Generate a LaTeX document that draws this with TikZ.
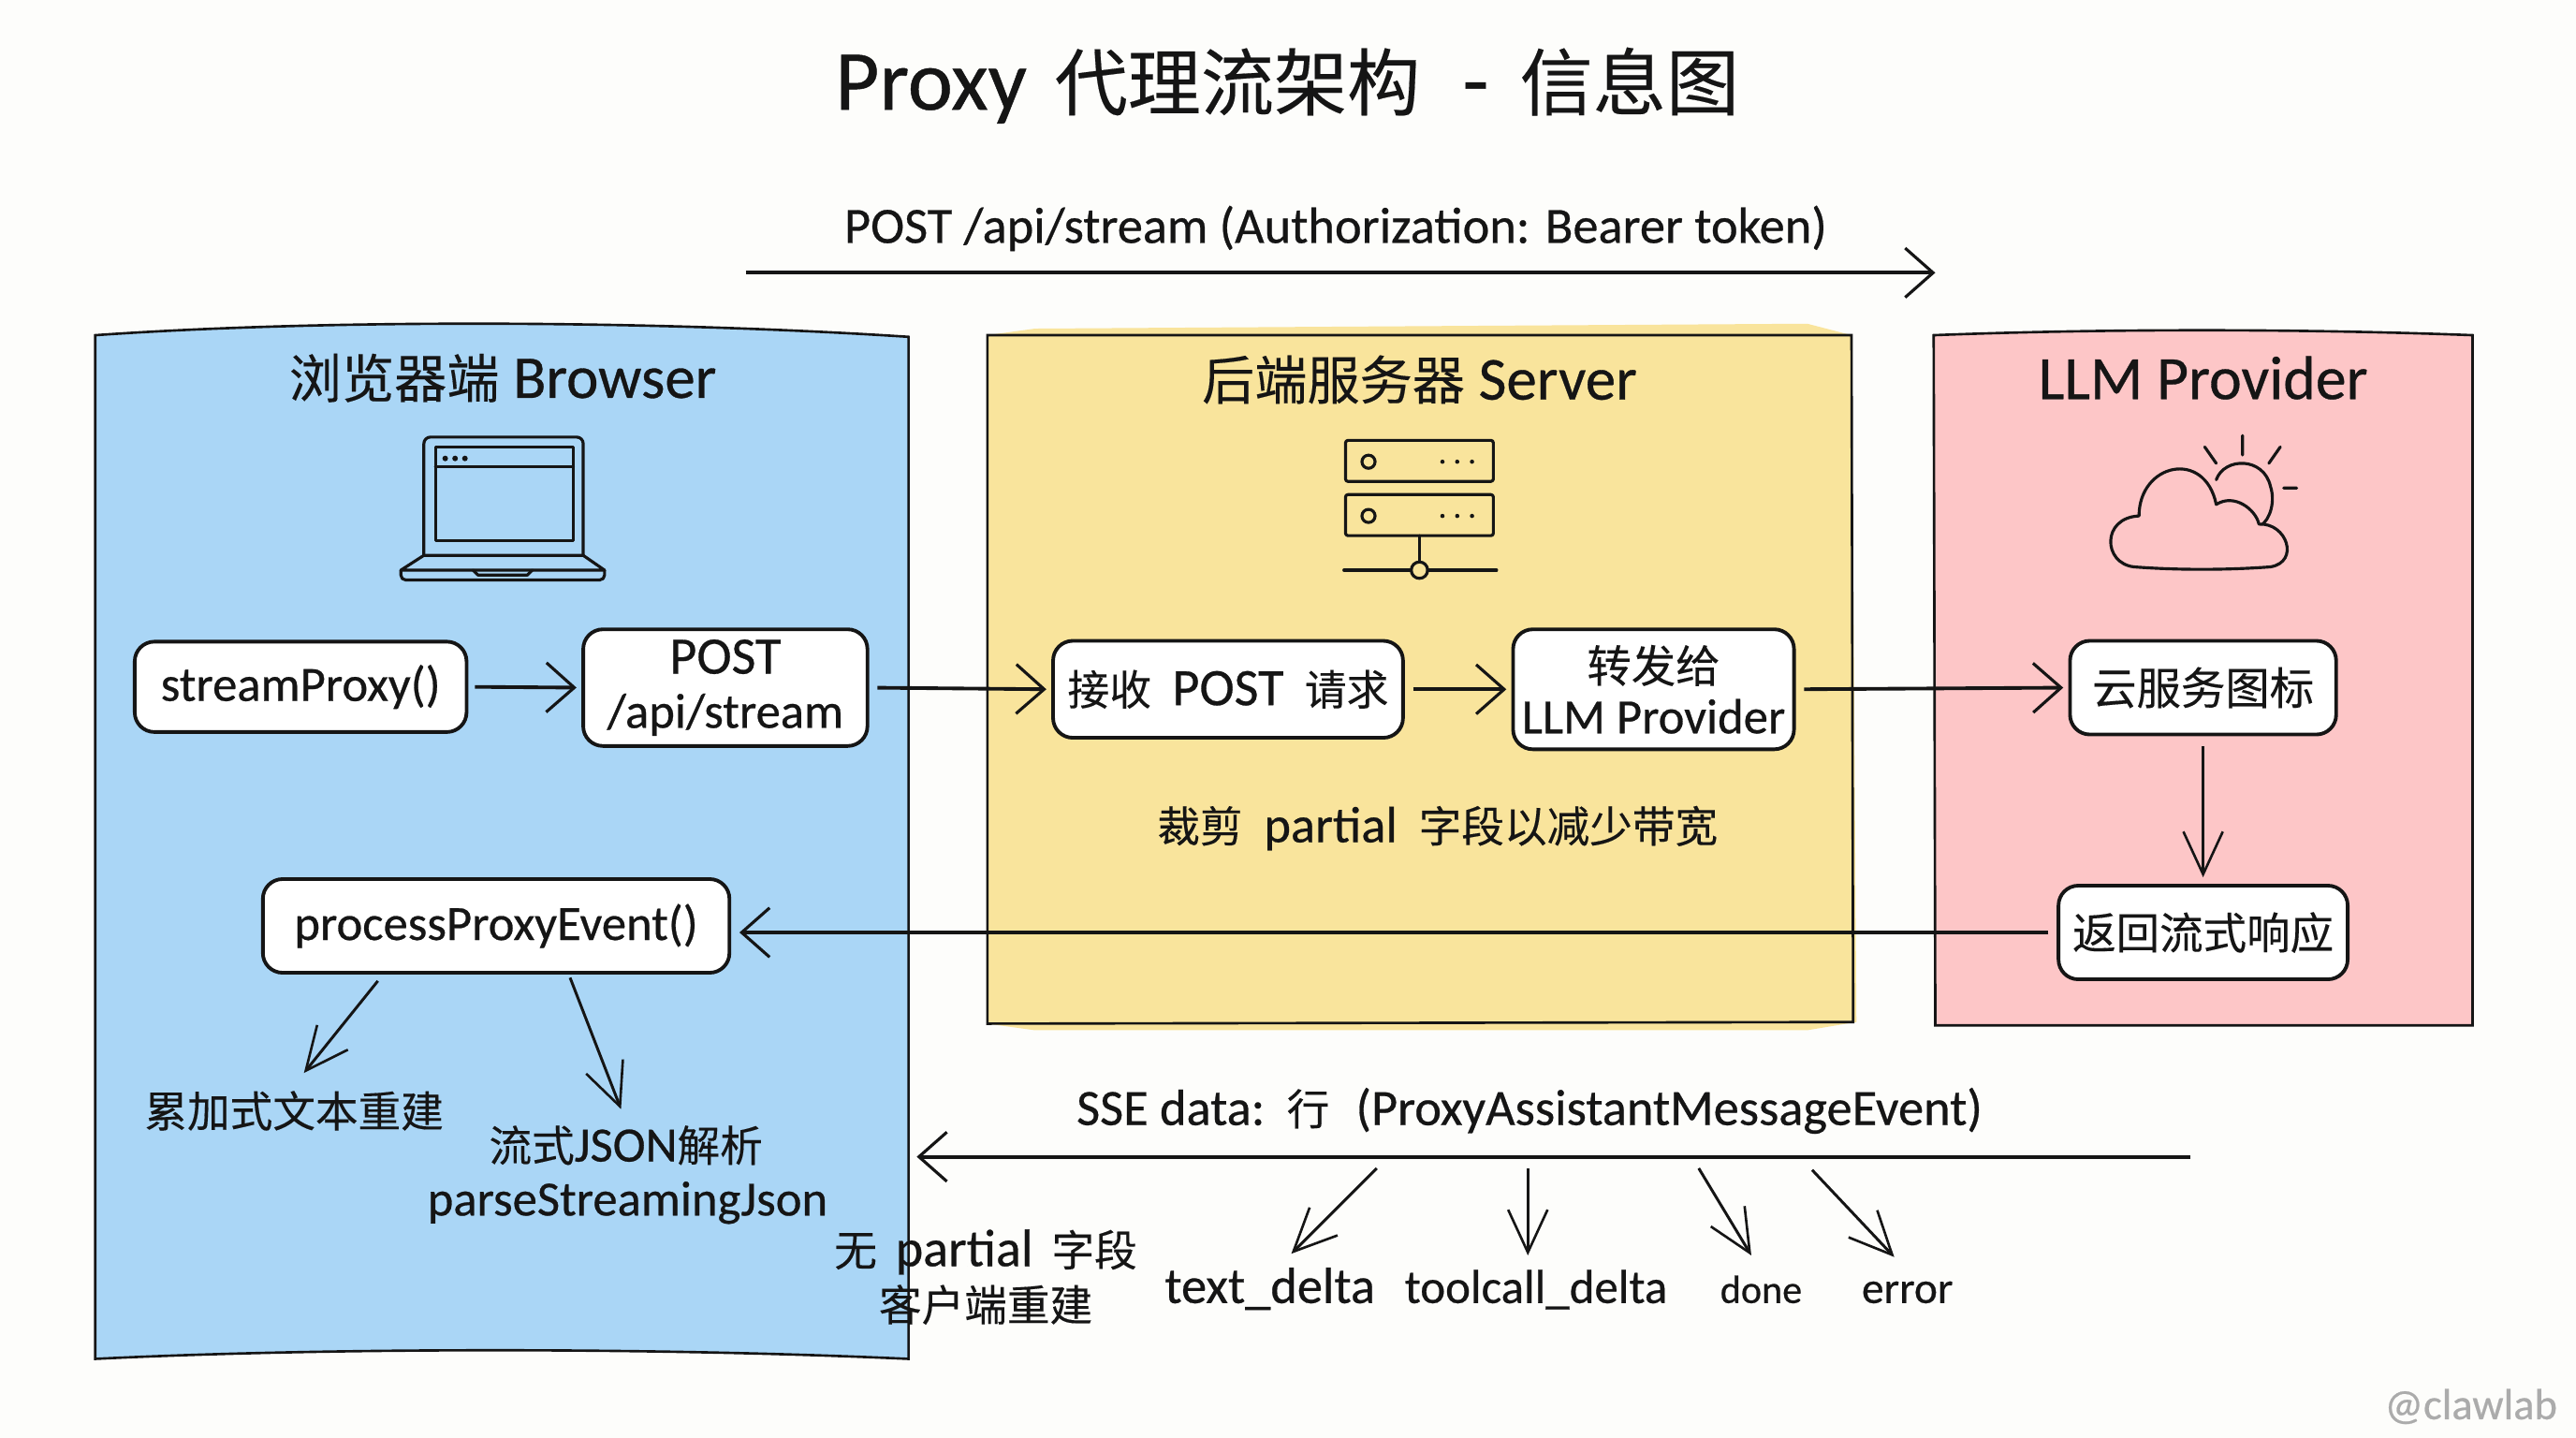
\documentclass[tikz,border=0pt]{standalone}
\usepackage{fontspec}
\setmainfont[FakeBold=0.5]{Carlito}
\newfontfamily\cjk[FakeBold=0.25]{Noto Sans CJK SC}
\usetikzlibrary{arrows.meta}
\definecolor{bgc}{HTML}{FDFDFB}
\definecolor{bluep}{HTML}{AAD6F6}
\definecolor{yellowp}{HTML}{F9E49C}
\definecolor{pinkp}{HTML}{FDC6C7}
\definecolor{ink}{HTML}{151515}
\newcommand{\fs}[1]{\fontsize{#1}{#1}\selectfont}
\newcommand{\zh}[2]{{\fs{#1}\cjk #2}}
\tikzset{
  x=1pt,y=-1pt,
  panel/.style={draw=ink,line width=1.5pt,line join=miter},
  sbox/.style={draw=ink,fill=white,line width=2.2pt,rounded corners=12pt,align=center,inner sep=0pt,text=ink,
     font=\fs{30}},
  lab/.style={align=center,inner sep=0pt,text=ink,font=\fs{30}},
  flow/.style={draw=ink,line width=2.2pt,-{Straight Barb[length=17pt,width=30pt,line width=1.8pt]}},
  branch/.style={draw=ink,line width=1.7pt,-{Straight Barb[length=26pt,width=24pt,line width=1.5pt]}},
  icon/.style={draw=ink,line width=1.8pt,line cap=round,line join=round},
}
\begin{document}
\begin{tikzpicture}
\useasboundingbox (0,0) rectangle (1568,875);
\fill[bgc] (0,0) rectangle (1568,875);

% panels
\path[panel,fill=bluep] (58,204) .. controls (200,194) and (400,195) .. (553,205) -- (553,827) .. controls (400,820) and (200,820) .. (58,827) -- cycle;
\fill[yellowp] (601,204) -- (630,200) -- (1100,197) -- (1127,204) -- (1130,622) -- (1100,627) -- (630,627) -- (601,623) -- cycle;
\path[panel] (601,204) -- (1127,204) -- (1128,622) -- (601,623) -- cycle;
\path[panel,fill=pinkp] (1177,204) .. controls (1280,200) and (1400,200) .. (1505,204) -- (1505,624) -- (1178,624) -- cycle;

% title and panel titles
\node[lab,font=\fs{52}] (title) at (783.5,52) {Proxy\hspace{17pt}\zh{44.5}{代理流架构}\hspace{14pt} -\hspace{19pt}\zh{44.5}{信息图}};
\node[lab,font=\fs{31}] (req) at (813,139) {POST /api/stream (Authorization: Bearer token)};
\node[lab,font=\fs{37}] (tb) at (306,230) {\zh{32}{浏览器端} Browser};
\node[lab,font=\fs{37}] (ts) at (864,231) {\zh{32}{后端服务器} Server};
\node[lab,font=\fs{37.5}] (tl) at (1341,230) {LLM Provider};

% laptop icon
\draw[icon,rounded corners=4pt] (258,338) -- (258,266) -- (355,266) -- (355,338);
\draw[icon] (265,272) rectangle (349,329);
\draw[icon] (265,284) -- (349,284);
\fill[ink] (271,279) circle (1.7) (277,279) circle (1.7) (283,279) circle (1.7);
\draw[icon] (258,338) -- (355,338) -- (368,347) -- (244,347) -- cycle;
\draw[icon,rounded corners=3pt] (244,347) -- (244,353) -- (368,353) -- (368,347);
\draw[icon] (288,347) -- (291,350) -- (321,350) -- (324,347);

% server icon
\draw[icon,rounded corners=1.5pt] (819,268) rectangle (909,293);
\draw[icon,rounded corners=1.5pt] (819,301) rectangle (909,326);
\draw[icon] (833,281) circle (4) (833,314) circle (4);
\fill[ink] (878,281) circle (1.3) (887,281) circle (1.3) (896,281) circle (1.3)
           (878,314) circle (1.3) (887,314) circle (1.3) (896,314) circle (1.3);
\draw[icon] (864,326) -- (864,342);
\draw[icon] (864,347) circle (5);
\draw[icon] (818,347) -- (859,347) (869,347) -- (911,347);

% cloud icon
\draw[icon] (1349,292) .. controls (1354,278) and (1378,278) .. (1382,296) .. controls (1385,305) and (1382,316) .. (1376,320);
\draw[icon] (1365,265) -- (1365,277) (1342,272) -- (1349,282) (1388,272) -- (1381,282) (1390,297) -- (1398,297);
\draw[icon,fill=pinkp] (1299,345) .. controls (1280,343) and (1279,315) .. (1302,314)
   .. controls (1302,282) and (1342,273) .. (1349,307)
   .. controls (1360,300) and (1373,310) .. (1375,319)
   .. controls (1392,318) and (1400,342) .. (1382,345)
   .. controls (1355,347) and (1325,347) .. (1299,345) -- cycle;

% boxes
\node[sbox,minimum width=202pt,minimum height=55pt] (sp) at (183,418) {streamProxy()};
\node[sbox,minimum width=173pt,minimum height=71pt] (post) at (441.5,418.5) {{\fs{32}POST}\\[3pt]/api/stream};
\node[sbox,minimum width=213pt,minimum height=59pt] (recv) at (747.5,419.5) {\zh{25.5}{接收}\hspace{6pt} {\fs{32}POST}\hspace{6pt} \zh{25.5}{请求}};
\node[sbox,minimum width=171pt,minimum height=73pt] (fwd) at (1006.5,419.5) {\zh{27}{转发给}\\[1pt]LLM Provider};
\node[sbox,minimum width=162pt,minimum height=57pt] (cloud) at (1341,418.5) {\zh{27}{云服务图标}};
\node[sbox,minimum width=176pt,minimum height=57pt] (ret) at (1341,567.5) {\zh{26.5}{返回流式响应}};
\node[sbox,minimum width=284pt,minimum height=57pt] (proc) at (302,563.5) {processProxyEvent()};

% labels
\node[lab,font=\fs{31}] (trim) at (875,504) {\zh{26}{裁剪}\hspace{6pt} partial\hspace{6pt} \zh{26}{字段以减少带宽}};
\node[lab] (acc) at (179,676) {\zh{26}{累加式文本重建}};
\node[lab] (json) at (381,697) {\zh{26}{流式}JSON\zh{26}{解析}};
\node[lab] (pjson) at (382,732) {parseStreamingJson};
\node[lab,font=\fs{32}] (nop) at (600,762) {\zh{26}{无}\hspace{4pt} partial\hspace{4pt} \zh{26}{字段}};
\node[lab] (rec) at (600,794) {\zh{26}{客户端重建}};
\node[lab,font=\fs{31}] (sse) at (931,676) {SSE data:\hspace{4pt} \zh{26}{行}\hspace{9pt} (ProxyAssistantMessageEvent)};
\node[lab,anchor=base,font=\fs{31}] (td) at (773,793) {text\_delta};
\node[lab,anchor=base,font=\fs{29}] (tc) at (935,793) {toolcall\_delta};
\node[lab,anchor=base,font=\fs{24}] (dn) at (1072,793) {done};
\node[lab,anchor=base,font=\fs{27}] (er) at (1161,793) {error};
\node[lab,text=black!33,font=\fs{26.5}] (wm) at (1504,856) {@clawlab};

% free-end coordinates
\coordinate (reqa) at (454,166);
\coordinate (reqb) at (1178,166);
\coordinate (ssea) at (1333,704);
\coordinate (sseb) at (558,704);
\coordinate (p1) at (230,597);
\coordinate (p2) at (185,653);
\coordinate (p3) at (347,595);
\coordinate (p4) at (378,675);
\coordinate (b1a) at (838,711);
\coordinate (b1b) at (786,763);
\coordinate (b2a) at (930,711);
\coordinate (b2b) at (930,764);
\coordinate (b3a) at (1034,711);
\coordinate (b3b) at (1066,764);
\coordinate (b4a) at (1103,712);
\coordinate (b4b) at (1153,765);

% connectors
\draw[flow] (reqa) -- (reqb);
\draw[flow,shorten <=4pt,shorten >=3pt] (sp.east) -- (post.west);
\draw[flow,shorten <=5pt,shorten >=3pt] (post.east) -- (recv.west);
\draw[flow,shorten <=5pt,shorten >=3pt] (recv.east) -- (fwd.west);
\draw[flow,shorten <=5pt,shorten >=3pt] (fwd.east) -- (cloud.west);
\draw[branch,shorten <=6pt,shorten >=4pt] (cloud.south) -- (ret.north);
\draw[flow,shorten <=5pt,shorten >=5pt] (ret.west) -- (proc.east |- ret.west);
\draw[flow] (ssea) -- (sseb);
\draw[branch] (p1) -- (p2);
\draw[branch] (p3) -- (p4);
\draw[branch] (b1a) -- (b1b);
\draw[branch] (b2a) -- (b2b);
\draw[branch] (b3a) -- (b3b);
\draw[branch] (b4a) -- (b4b);
\end{tikzpicture}
\end{document}
